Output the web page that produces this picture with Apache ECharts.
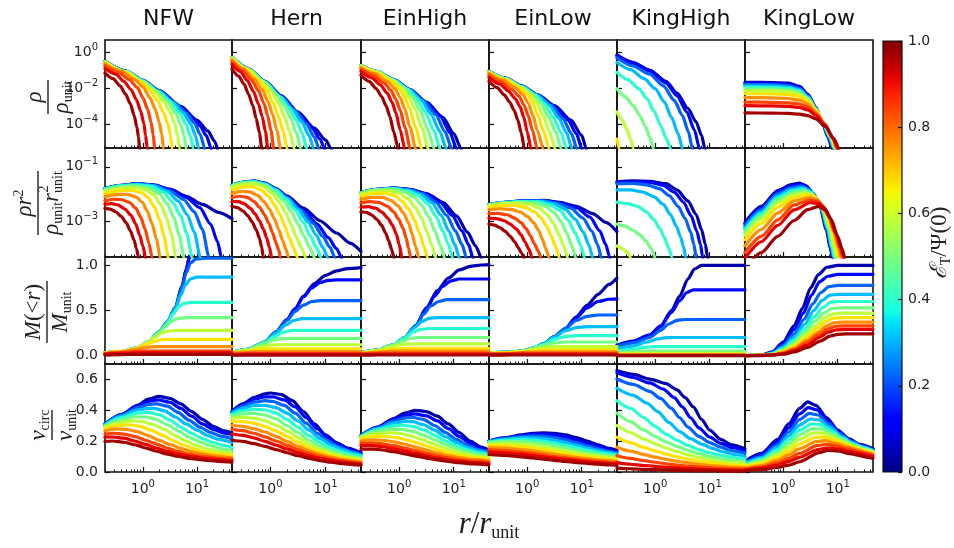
<!DOCTYPE html>
<html><head><meta charset="utf-8">
<script src="https://cdn.jsdelivr.net/npm/echarts@6/dist/echarts.min.js"></script>
<style>html,body{margin:0;padding:0;background:#fff}#c{width:954px;height:548px}</style>
</head><body><div id="c"></div>
<script>
// ---------------- DATA ----------------
const models = ['NFW', 'Hern', 'EinHigh', 'EinLow', 'KingHigh', 'KingLow'];
// truncation energy of each drawn curve (E_T / Psi(0))
const energies = [0.04, 0.13, 0.22, 0.31, 0.40, 0.49, 0.58, 0.67, 0.76, 0.84, 0.91, 0.97];
// x tick values (r / r_unit)
const xMajorTicks = [1, 10];
const xMinorTicks = [0.2, 0.3, 0.4, 0.5, 0.6, 0.7, 0.8, 0.9, 2, 3, 4, 5, 6, 7, 8, 9, 20, 30, 40];
// y tick values (exponents for log rows)
const rhoTickExp = [0, -2, -4];
const rr2TickExp = [-1, -3];
const massTicks = [0, 0.5, 1];
const vcircTicks = [0, 0.2, 0.4, 0.6];
const cbarTicks = [0, 0.2, 0.4, 0.6, 0.8, 1];

// Each curve: [log10(r/r_unit), value]; rows 1-2 values are log10 of the quantity.
// ---- rho / rho_unit ----
const rhoNFW = [
[[-0.7,-0.49],[-0.3,-1.04],[0,-1.54],[0.3,-2.11],[0.7,-2.99],[1.0,-3.75],[1.2,-4.35],[1.32,-4.9],[1.4,-5.6]],
[[-0.7,-0.49],[-0.3,-1.04],[0,-1.54],[0.3,-2.11],[0.7,-3.0],[0.9,-3.55],[1.05,-4.05],[1.17,-4.6],[1.26,-5.3],[1.3,-6]],
[[-0.7,-0.49],[-0.3,-1.05],[0,-1.55],[0.3,-2.13],[0.6,-2.8],[0.8,-3.35],[0.95,-3.9],[1.06,-4.55],[1.14,-5.3],[1.18,-6]],
[[-0.7,-0.5],[-0.3,-1.05],[0,-1.56],[0.3,-2.15],[0.55,-2.75],[0.75,-3.35],[0.88,-3.95],[0.97,-4.6],[1.03,-5.3],[1.06,-6]],
[[-0.7,-0.5],[-0.3,-1.06],[0,-1.58],[0.3,-2.2],[0.5,-2.72],[0.68,-3.35],[0.8,-4.0],[0.88,-4.65],[0.93,-5.3],[0.96,-6]],
[[-0.7,-0.51],[-0.3,-1.07],[0,-1.6],[0.25,-2.15],[0.45,-2.7],[0.6,-3.35],[0.7,-4.0],[0.76,-4.6],[0.8,-5.3],[0.83,-6]],
[[-0.7,-0.52],[-0.3,-1.09],[0,-1.64],[0.2,-2.1],[0.38,-2.7],[0.5,-3.3],[0.59,-3.95],[0.64,-4.6],[0.68,-5.3],[0.71,-6]],
[[-0.7,-0.55],[-0.3,-1.13],[-0.05,-1.62],[0.12,-2.05],[0.27,-2.65],[0.38,-3.3],[0.46,-3.95],[0.51,-4.6],[0.54,-5.3],[0.57,-6]],
[[-0.7,-0.62],[-0.4,-1.02],[-0.15,-1.5],[0.0,-1.9],[0.13,-2.5],[0.23,-3.15],[0.3,-3.85],[0.35,-4.55],[0.38,-5.3],[0.41,-6]],
[[-0.7,-0.72],[-0.45,-1.1],[-0.25,-1.5],[-0.1,-1.95],[0.0,-2.5],[0.09,-3.15],[0.15,-3.85],[0.19,-4.55],[0.22,-5.3],[0.25,-6]],
[[-0.7,-0.88],[-0.5,-1.2],[-0.35,-1.6],[-0.22,-2.05],[-0.12,-2.6],[-0.04,-3.25],[0.02,-3.95],[0.05,-4.6],[0.08,-5.3],[0.11,-6]],
[[-0.7,-1.15],[-0.55,-1.45],[-0.42,-1.85],[-0.32,-2.3],[-0.23,-2.85],[-0.16,-3.5],[-0.11,-4.15],[-0.08,-4.7],[-0.06,-5.3],[-0.03,-6]]
];
const rhoHern = [
[[-0.7,-0.26],[-0.4,-0.9],[-0.1,-1.6],[0.2,-2.4],[0.5,-3.3],[0.8,-4.2],[1.0,-4.85],[1.1,-5.3],[1.15,-6]],
[[-0.7,-0.26],[-0.4,-0.9],[-0.1,-1.6],[0.2,-2.42],[0.5,-3.35],[0.75,-4.15],[0.9,-4.8],[0.98,-5.3],[1.02,-6]],
[[-0.7,-0.26],[-0.4,-0.9],[-0.1,-1.61],[0.2,-2.45],[0.45,-3.25],[0.65,-3.95],[0.8,-4.7],[0.88,-5.3],[0.92,-6]],
[[-0.7,-0.27],[-0.4,-0.91],[-0.1,-1.62],[0.2,-2.5],[0.4,-3.15],[0.57,-3.85],[0.7,-4.6],[0.78,-5.3],[0.82,-6]],
[[-0.7,-0.27],[-0.4,-0.92],[-0.1,-1.64],[0.15,-2.4],[0.33,-3.05],[0.47,-3.75],[0.58,-4.5],[0.66,-5.3],[0.7,-6]],
[[-0.7,-0.28],[-0.4,-0.93],[-0.1,-1.67],[0.1,-2.3],[0.25,-2.95],[0.37,-3.65],[0.47,-4.45],[0.55,-5.3],[0.59,-6]],
[[-0.7,-0.29],[-0.4,-0.95],[-0.15,-1.6],[0.03,-2.2],[0.15,-2.85],[0.26,-3.6],[0.35,-4.4],[0.43,-5.3],[0.47,-6]],
[[-0.7,-0.33],[-0.45,-0.9],[-0.22,-1.5],[-0.07,-2.1],[0.05,-2.8],[0.14,-3.5],[0.23,-4.35],[0.3,-5.3],[0.34,-6]],
[[-0.7,-0.4],[-0.5,-0.88],[-0.3,-1.45],[-0.15,-2.05],[-0.04,-2.75],[0.04,-3.45],[0.12,-4.35],[0.18,-5.3],[0.22,-6]],
[[-0.7,-0.5],[-0.5,-1.0],[-0.35,-1.5],[-0.22,-2.1],[-0.12,-2.8],[-0.05,-3.5],[0.01,-4.35],[0.06,-5.3],[0.1,-6]],
[[-0.7,-0.65],[-0.55,-1.05],[-0.42,-1.55],[-0.31,-2.15],[-0.22,-2.85],[-0.15,-3.55],[-0.09,-4.4],[-0.05,-5.3],[-0.01,-6]],
[[-0.7,-0.9],[-0.58,-1.3],[-0.48,-1.75],[-0.4,-2.3],[-0.32,-2.95],[-0.26,-3.65],[-0.2,-4.45],[-0.16,-5.3],[-0.12,-6]]
];
const rhoEinHigh = [
[[-0.7,-0.71],[-0.4,-1.05],[-0.1,-1.5],[0.2,-2.05],[0.5,-2.75],[0.8,-3.6],[1.0,-4.5],[1.13,-5.3],[1.18,-6]],
[[-0.7,-0.71],[-0.4,-1.05],[-0.1,-1.5],[0.2,-2.06],[0.5,-2.78],[0.75,-3.5],[0.93,-4.45],[1.05,-5.3],[1.09,-6]],
[[-0.7,-0.71],[-0.4,-1.05],[-0.1,-1.51],[0.2,-2.07],[0.45,-2.7],[0.67,-3.45],[0.84,-4.4],[0.96,-5.3],[1.0,-6]],
[[-0.7,-0.72],[-0.4,-1.06],[-0.1,-1.52],[0.2,-2.1],[0.4,-2.62],[0.58,-3.4],[0.74,-4.35],[0.86,-5.3],[0.9,-6]],
[[-0.7,-0.72],[-0.4,-1.06],[-0.1,-1.53],[0.15,-2.03],[0.32,-2.55],[0.48,-3.3],[0.63,-4.3],[0.75,-5.3],[0.79,-6]],
[[-0.7,-0.73],[-0.4,-1.07],[-0.1,-1.55],[0.1,-1.98],[0.25,-2.5],[0.38,-3.2],[0.52,-4.25],[0.64,-5.3],[0.68,-6]],
[[-0.7,-0.74],[-0.4,-1.08],[-0.12,-1.55],[0.05,-1.95],[0.17,-2.45],[0.29,-3.15],[0.42,-4.2],[0.53,-5.3],[0.57,-6]],
[[-0.7,-0.77],[-0.4,-1.12],[-0.15,-1.58],[0.0,-1.98],[0.1,-2.45],[0.19,-3.1],[0.3,-4.15],[0.41,-5.3],[0.45,-6]],
[[-0.7,-0.83],[-0.45,-1.15],[-0.22,-1.6],[-0.08,-2.0],[0.02,-2.5],[0.1,-3.1],[0.2,-4.15],[0.3,-5.3],[0.34,-6]],
[[-0.7,-0.92],[-0.48,-1.25],[-0.28,-1.68],[-0.15,-2.1],[-0.06,-2.6],[0.02,-3.2],[0.11,-4.2],[0.2,-5.3],[0.24,-6]],
[[-0.7,-1.05],[-0.5,-1.4],[-0.34,-1.8],[-0.22,-2.25],[-0.13,-2.75],[-0.06,-3.35],[0.02,-4.3],[0.1,-5.3],[0.14,-6]],
[[-0.7,-1.25],[-0.55,-1.6],[-0.42,-2.0],[-0.32,-2.45],[-0.24,-2.95],[-0.17,-3.55],[-0.1,-4.4],[-0.02,-5.3],[0.02,-6]]
];
const rhoEinLow = [
[[-0.7,-1.04],[-0.4,-1.42],[-0.1,-1.85],[0.2,-2.35],[0.5,-2.95],[0.8,-3.75],[1.0,-4.6],[1.08,-5.3],[1.12,-6]],
[[-0.7,-1.04],[-0.4,-1.42],[-0.1,-1.86],[0.2,-2.37],[0.5,-3.0],[0.75,-3.75],[0.9,-4.5],[1.0,-5.3],[1.04,-6]],
[[-0.7,-1.05],[-0.4,-1.43],[-0.1,-1.87],[0.2,-2.38],[0.45,-2.95],[0.66,-3.7],[0.81,-4.5],[0.91,-5.3],[0.95,-6]],
[[-0.7,-1.05],[-0.4,-1.43],[-0.1,-1.88],[0.2,-2.4],[0.4,-2.9],[0.58,-3.65],[0.72,-4.45],[0.82,-5.3],[0.86,-6]],
[[-0.7,-1.06],[-0.4,-1.44],[-0.1,-1.9],[0.15,-2.35],[0.32,-2.85],[0.48,-3.6],[0.62,-4.45],[0.72,-5.3],[0.76,-6]],
[[-0.7,-1.07],[-0.4,-1.45],[-0.1,-1.92],[0.1,-2.3],[0.25,-2.8],[0.39,-3.55],[0.52,-4.4],[0.62,-5.3],[0.66,-6]],
[[-0.7,-1.08],[-0.4,-1.47],[-0.12,-1.92],[0.05,-2.3],[0.17,-2.75],[0.29,-3.5],[0.41,-4.4],[0.51,-5.3],[0.55,-6]],
[[-0.7,-1.1],[-0.4,-1.5],[-0.15,-1.95],[0.0,-2.3],[0.1,-2.75],[0.19,-3.45],[0.3,-4.35],[0.4,-5.3],[0.44,-6]],
[[-0.7,-1.15],[-0.45,-1.52],[-0.22,-1.95],[-0.08,-2.32],[0.02,-2.8],[0.1,-3.45],[0.19,-4.35],[0.29,-5.3],[0.33,-6]],
[[-0.7,-1.25],[-0.48,-1.62],[-0.28,-2.05],[-0.15,-2.42],[-0.06,-2.9],[0.02,-3.5],[0.1,-4.35],[0.18,-5.3],[0.22,-6]],
[[-0.7,-1.38],[-0.5,-1.75],[-0.34,-2.15],[-0.22,-2.55],[-0.13,-3.0],[-0.06,-3.6],[0.0,-4.4],[0.07,-5.3],[0.11,-6]],
[[-0.7,-1.6],[-0.55,-1.95],[-0.42,-2.35],[-0.32,-2.75],[-0.24,-3.2],[-0.17,-3.75],[-0.11,-4.45],[-0.05,-5.3],[-0.01,-6]]
];
const rhoKingHigh = [
[[-0.7,-0.13],[-0.4,-0.55],[-0.1,-0.97],[0.2,-1.6],[0.4,-2.25],[0.6,-3.1],[0.75,-3.85],[0.85,-4.6],[0.91,-5.3],[0.95,-6]],
[[-0.7,-0.18],[-0.4,-0.6],[-0.1,-1.03],[0.2,-1.7],[0.4,-2.4],[0.58,-3.3],[0.72,-4.3],[0.81,-5.3],[0.85,-6]],
[[-0.7,-0.3],[-0.4,-0.75],[-0.1,-1.2],[0.15,-1.85],[0.35,-2.65],[0.5,-3.5],[0.61,-4.4],[0.68,-5.3],[0.72,-6]],
[[-0.7,-0.55],[-0.45,-0.95],[-0.2,-1.45],[0.0,-2.0],[0.17,-2.75],[0.3,-3.6],[0.42,-4.5],[0.5,-5.3],[0.54,-6]],
[[-0.7,-1.1],[-0.5,-1.5],[-0.3,-2.0],[-0.15,-2.55],[-0.02,-3.25],[0.1,-4.05],[0.2,-4.75],[0.28,-5.3],[0.32,-6]],
[[-0.7,-2.0],[-0.55,-2.45],[-0.4,-2.95],[-0.28,-3.5],[-0.18,-4.1],[-0.1,-4.7],[-0.03,-5.3],[0.01,-6]],
[[-0.7,-3.3],[-0.6,-3.75],[-0.52,-4.25],[-0.45,-4.8],[-0.4,-5.3],[-0.37,-6]],
[[-0.7,-4.8],[-0.66,-5.3],[-0.63,-6]],
[], [], [], []
];
const rhoKingLow = [
[[-0.7,-1.65],[-0.2,-1.66],[0.1,-1.7],[0.3,-1.88],[0.45,-2.3],[0.6,-3.05],[0.72,-3.9],[0.82,-4.7],[0.9,-5.3],[0.94,-6]],
[[-0.7,-1.7],[-0.2,-1.71],[0.1,-1.76],[0.3,-1.94],[0.45,-2.35],[0.6,-3.05],[0.72,-3.9],[0.83,-4.7],[0.91,-5.3],[0.95,-6]],
[[-0.7,-1.77],[-0.2,-1.78],[0.1,-1.83],[0.3,-2.0],[0.45,-2.4],[0.6,-3.08],[0.72,-3.9],[0.84,-4.7],[0.92,-5.3],[0.96,-6]],
[[-0.7,-1.85],[-0.2,-1.86],[0.1,-1.91],[0.3,-2.07],[0.45,-2.45],[0.6,-3.1],[0.73,-3.9],[0.85,-4.7],[0.93,-5.3],[0.97,-6]],
[[-0.7,-1.93],[-0.2,-1.94],[0.1,-1.99],[0.3,-2.14],[0.45,-2.5],[0.6,-3.12],[0.73,-3.9],[0.86,-4.7],[0.94,-5.3],[0.98,-6]],
[[-0.7,-2.02],[-0.2,-2.03],[0.1,-2.08],[0.3,-2.22],[0.45,-2.55],[0.6,-3.15],[0.74,-3.9],[0.87,-4.7],[0.95,-5.3],[0.99,-6]],
[[-0.7,-2.12],[-0.2,-2.13],[0.1,-2.18],[0.3,-2.3],[0.45,-2.6],[0.6,-3.18],[0.74,-3.9],[0.88,-4.7],[0.96,-5.3],[1.0,-6]],
[[-0.7,-2.28],[-0.2,-2.29],[0.1,-2.33],[0.3,-2.44],[0.45,-2.7],[0.6,-3.22],[0.75,-3.9],[0.89,-4.7],[0.97,-5.3],[1.01,-6]],
[[-0.7,-2.5],[-0.2,-2.51],[0.1,-2.55],[0.3,-2.64],[0.45,-2.85],[0.6,-3.3],[0.75,-3.92],[0.9,-4.7],[0.98,-5.3],[1.02,-6]],
[[-0.7,-2.75],[-0.2,-2.76],[0.1,-2.79],[0.3,-2.86],[0.45,-3.02],[0.6,-3.4],[0.76,-3.97],[0.91,-4.72],[0.99,-5.3],[1.03,-6]],
[[-0.7,-2.95],[-0.2,-2.96],[0.1,-2.99],[0.3,-3.05],[0.45,-3.18],[0.6,-3.48],[0.76,-4.02],[0.92,-4.75],[1.0,-5.3],[1.04,-6]],
[[-0.7,-3.35],[-0.2,-3.36],[0.1,-3.38],[0.3,-3.42],[0.45,-3.5],[0.6,-3.68],[0.77,-4.1],[0.93,-4.8],[1.02,-5.3],[1.06,-6]]
];
// ---- rho r^2 / (rho_unit r_unit^2) ----
const rr2NFW = [
[[-0.7,-1.8],[-0.4,-1.68],[-0.1,-1.62],[0.2,-1.66],[0.5,-1.82],[0.8,-2.08],[1.1,-2.38],[1.4,-2.67],[1.645,-2.9]],
[[-0.7,-1.8],[-0.4,-1.68],[-0.1,-1.62],[0.2,-1.67],[0.5,-1.84],[0.8,-2.12],[1.05,-2.5],[1.25,-3.1],[1.38,-3.75],[1.45,-4.31],[1.5,-5]],
[[-0.7,-1.8],[-0.4,-1.69],[-0.1,-1.63],[0.2,-1.68],[0.5,-1.88],[0.75,-2.2],[0.95,-2.65],[1.1,-3.3],[1.22,-4.31],[1.27,-5]],
[[-0.7,-1.81],[-0.4,-1.69],[-0.1,-1.64],[0.2,-1.7],[0.45,-1.9],[0.65,-2.25],[0.82,-2.75],[0.95,-3.4],[1.06,-4.31],[1.11,-5]],
[[-0.7,-1.82],[-0.4,-1.7],[-0.1,-1.66],[0.15,-1.72],[0.38,-1.93],[0.55,-2.3],[0.7,-2.8],[0.81,-3.45],[0.91,-4.31],[0.96,-5]],
[[-0.7,-1.84],[-0.4,-1.73],[-0.15,-1.7],[0.1,-1.77],[0.3,-1.98],[0.45,-2.35],[0.57,-2.85],[0.67,-3.5],[0.76,-4.31],[0.81,-5]],
[[-0.7,-1.9],[-0.4,-1.78],[-0.15,-1.76],[0.05,-1.84],[0.2,-2.02],[0.33,-2.38],[0.44,-2.88],[0.53,-3.5],[0.61,-4.31],[0.66,-5]],
[[-0.7,-1.98],[-0.45,-1.88],[-0.2,-1.86],[-0.02,-1.95],[0.1,-2.13],[0.21,-2.47],[0.31,-2.95],[0.39,-3.55],[0.47,-4.31],[0.52,-5]],
[[-0.7,-2.1],[-0.5,-2.02],[-0.3,-2.01],[-0.13,-2.1],[-0.01,-2.3],[0.08,-2.62],[0.17,-3.08],[0.25,-3.65],[0.32,-4.31],[0.37,-5]],
[[-0.7,-2.25],[-0.55,-2.19],[-0.4,-2.2],[-0.25,-2.3],[-0.13,-2.52],[-0.04,-2.85],[0.04,-3.28],[0.11,-3.8],[0.17,-4.31],[0.22,-5]],
[[-0.7,-2.37],[-0.58,-2.35],[-0.46,-2.4],[-0.33,-2.55],[-0.22,-2.78],[-0.13,-3.1],[-0.06,-3.5],[0.0,-3.9],[0.05,-4.31],[0.1,-5]],
[[-0.7,-2.52],[-0.6,-2.55],[-0.5,-2.65],[-0.4,-2.82],[-0.31,-3.05],[-0.23,-3.35],[-0.16,-3.7],[-0.12,-4.0],[-0.08,-4.31],[-0.04,-5]]
];
const rr2Hern = [
[[-0.7,-1.68],[-0.5,-1.57],[-0.3,-1.52],[-0.1,-1.6],[0.1,-1.8],[0.3,-2.07],[0.6,-2.52],[0.9,-2.98],[1.2,-3.43],[1.45,-3.8],[1.645,-4.1]],
[[-0.7,-1.68],[-0.5,-1.57],[-0.3,-1.53],[-0.1,-1.61],[0.1,-1.81],[0.3,-2.1],[0.6,-2.6],[0.85,-3.1],[1.05,-3.6],[1.2,-4.0],[1.29,-4.31],[1.34,-5]],
[[-0.7,-1.68],[-0.5,-1.57],[-0.3,-1.53],[-0.1,-1.62],[0.1,-1.82],[0.3,-2.12],[0.55,-2.58],[0.78,-3.08],[0.95,-3.55],[1.08,-3.95],[1.17,-4.31],[1.22,-5]],
[[-0.7,-1.69],[-0.5,-1.58],[-0.3,-1.54],[-0.1,-1.63],[0.1,-1.84],[0.3,-2.15],[0.5,-2.55],[0.68,-3.02],[0.83,-3.5],[0.95,-3.95],[1.04,-4.31],[1.09,-5]],
[[-0.7,-1.69],[-0.5,-1.58],[-0.3,-1.55],[-0.1,-1.65],[0.1,-1.87],[0.28,-2.18],[0.45,-2.58],[0.6,-3.05],[0.72,-3.52],[0.83,-3.95],[0.92,-4.31],[0.97,-5]],
[[-0.7,-1.7],[-0.5,-1.6],[-0.3,-1.57],[-0.1,-1.68],[0.08,-1.92],[0.24,-2.25],[0.38,-2.65],[0.5,-3.1],[0.61,-3.55],[0.71,-3.95],[0.8,-4.31],[0.85,-5]],
[[-0.7,-1.75],[-0.5,-1.64],[-0.3,-1.62],[-0.12,-1.74],[0.03,-1.97],[0.16,-2.3],[0.28,-2.7],[0.38,-3.13],[0.47,-3.57],[0.56,-3.97],[0.64,-4.31],[0.69,-5]],
[[-0.7,-1.85],[-0.5,-1.74],[-0.33,-1.73],[-0.17,-1.85],[-0.04,-2.07],[0.07,-2.38],[0.17,-2.75],[0.26,-3.17],[0.34,-3.6],[0.42,-3.98],[0.49,-4.31],[0.54,-5]],
[[-0.7,-1.98],[-0.52,-1.9],[-0.37,-1.92],[-0.23,-2.05],[-0.12,-2.27],[-0.02,-2.55],[0.07,-2.9],[0.15,-3.3],[0.22,-3.7],[0.28,-4.02],[0.33,-4.31],[0.38,-5]],
[[-0.7,-2.12],[-0.55,-2.08],[-0.42,-2.12],[-0.3,-2.27],[-0.2,-2.48],[-0.11,-2.75],[-0.03,-3.07],[0.04,-3.43],[0.1,-3.78],[0.15,-4.05],[0.18,-4.31],[0.23,-5]],
[[-0.7,-2.28],[-0.58,-2.28],[-0.47,-2.36],[-0.37,-2.52],[-0.28,-2.73],[-0.2,-2.98],[-0.13,-3.28],[-0.07,-3.6],[-0.02,-3.95],[0.02,-4.31],[0.07,-5]],
[[-0.7,-2.45],[-0.6,-2.5],[-0.5,-2.62],[-0.41,-2.8],[-0.33,-3.03],[-0.26,-3.3],[-0.2,-3.62],[-0.16,-3.95],[-0.13,-4.31],[-0.09,-5]]
];
const rr2EinHigh = [
[[-0.7,-1.95],[-0.4,-1.83],[-0.1,-1.77],[0.2,-1.83],[0.5,-1.98],[0.8,-2.3],[1.05,-2.8],[1.25,-3.4],[1.4,-3.9],[1.5,-4.31],[1.55,-5]],
[[-0.7,-1.95],[-0.4,-1.83],[-0.1,-1.78],[0.2,-1.84],[0.5,-2.0],[0.75,-2.3],[0.97,-2.78],[1.15,-3.35],[1.27,-3.85],[1.35,-4.31],[1.4,-5]],
[[-0.7,-1.95],[-0.4,-1.83],[-0.1,-1.78],[0.2,-1.85],[0.45,-2.0],[0.67,-2.3],[0.87,-2.78],[1.03,-3.35],[1.15,-3.85],[1.23,-4.31],[1.28,-5]],
[[-0.7,-1.96],[-0.4,-1.84],[-0.1,-1.79],[0.2,-1.87],[0.4,-2.02],[0.6,-2.32],[0.77,-2.78],[0.91,-3.35],[1.02,-3.85],[1.1,-4.31],[1.15,-5]],
[[-0.7,-1.96],[-0.4,-1.84],[-0.1,-1.8],[0.15,-1.88],[0.35,-2.05],[0.52,-2.35],[0.67,-2.8],[0.8,-3.35],[0.9,-3.85],[0.98,-4.31],[1.03,-5]],
[[-0.7,-1.97],[-0.4,-1.85],[-0.12,-1.82],[0.1,-1.92],[0.27,-2.1],[0.41,-2.4],[0.54,-2.83],[0.66,-3.37],[0.75,-3.86],[0.83,-4.31],[0.88,-5]],
[[-0.7,-2.0],[-0.45,-1.89],[-0.2,-1.87],[0.0,-1.97],[0.16,-2.17],[0.29,-2.47],[0.41,-2.88],[0.51,-3.38],[0.6,-3.87],[0.67,-4.31],[0.72,-5]],
[[-0.7,-2.08],[-0.47,-1.98],[-0.25,-1.97],[-0.08,-2.07],[0.06,-2.27],[0.18,-2.56],[0.28,-2.95],[0.37,-3.42],[0.45,-3.9],[0.52,-4.31],[0.57,-5]],
[[-0.7,-2.2],[-0.5,-2.12],[-0.3,-2.12],[-0.15,-2.23],[-0.02,-2.43],[0.08,-2.7],[0.17,-3.05],[0.24,-3.48],[0.3,-3.92],[0.36,-4.31],[0.41,-5]],
[[-0.7,-2.33],[-0.53,-2.28],[-0.36,-2.31],[-0.22,-2.44],[-0.1,-2.65],[-0.01,-2.92],[0.07,-3.25],[0.13,-3.62],[0.17,-3.98],[0.21,-4.31],[0.26,-5]],
[[-0.7,-2.48],[-0.56,-2.46],[-0.43,-2.52],[-0.31,-2.67],[-0.21,-2.88],[-0.12,-3.15],[-0.05,-3.48],[0.0,-3.85],[0.05,-4.31],[0.1,-5]],
[[-0.7,-2.65],[-0.6,-2.67],[-0.5,-2.77],[-0.41,-2.93],[-0.32,-3.15],[-0.25,-3.42],[-0.19,-3.72],[-0.14,-4.02],[-0.1,-4.31],[-0.06,-5]]
];
const rr2EinLow = [
[[-0.7,-2.38],[-0.4,-2.3],[-0.1,-2.25],[0.3,-2.23],[0.6,-2.3],[0.9,-2.45],[1.2,-2.72],[1.45,-3.05],[1.645,-3.38]],
[[-0.7,-2.38],[-0.4,-2.3],[-0.1,-2.25],[0.3,-2.24],[0.6,-2.32],[0.9,-2.5],[1.15,-2.85],[1.33,-3.35],[1.44,-3.85],[1.51,-4.31],[1.56,-5]],
[[-0.7,-2.38],[-0.4,-2.3],[-0.1,-2.26],[0.3,-2.25],[0.55,-2.33],[0.8,-2.52],[1.02,-2.88],[1.19,-3.37],[1.29,-3.86],[1.36,-4.31],[1.41,-5]],
[[-0.7,-2.39],[-0.4,-2.31],[-0.1,-2.27],[0.25,-2.27],[0.5,-2.36],[0.7,-2.56],[0.88,-2.92],[1.03,-3.4],[1.13,-3.87],[1.2,-4.31],[1.25,-5]],
[[-0.7,-2.39],[-0.4,-2.31],[-0.1,-2.28],[0.2,-2.29],[0.42,-2.4],[0.6,-2.6],[0.75,-2.95],[0.88,-3.42],[0.98,-3.88],[1.05,-4.31],[1.1,-5]],
[[-0.7,-2.4],[-0.4,-2.32],[-0.1,-2.3],[0.15,-2.33],[0.34,-2.45],[0.49,-2.67],[0.62,-3.0],[0.73,-3.45],[0.82,-3.9],[0.89,-4.31],[0.94,-5]],
[[-0.7,-2.42],[-0.45,-2.35],[-0.2,-2.33],[0.05,-2.38],[0.22,-2.52],[0.36,-2.74],[0.48,-3.06],[0.58,-3.48],[0.67,-3.9],[0.74,-4.31],[0.79,-5]],
[[-0.7,-2.48],[-0.45,-2.42],[-0.22,-2.42],[-0.02,-2.5],[0.13,-2.65],[0.25,-2.86],[0.35,-3.15],[0.44,-3.53],[0.52,-3.93],[0.59,-4.31],[0.64,-5]],
[[-0.7,-2.58],[-0.5,-2.54],[-0.3,-2.56],[-0.12,-2.66],[0.01,-2.83],[0.12,-3.05],[0.21,-3.33],[0.28,-3.66],[0.34,-4.0],[0.4,-4.31],[0.45,-5]],
[[-0.7,-2.72],[-0.53,-2.71],[-0.37,-2.76],[-0.23,-2.88],[-0.11,-3.05],[-0.02,-3.27],[0.06,-3.53],[0.13,-3.82],[0.2,-4.08],[0.25,-4.31],[0.3,-5]],
[[-0.7,-2.88],[-0.56,-2.9],[-0.43,-2.97],[-0.31,-3.1],[-0.2,-3.28],[-0.11,-3.5],[-0.04,-3.75],[0.03,-4.02],[0.09,-4.31],[0.14,-5]],
[[-0.7,-3.1],[-0.6,-3.14],[-0.5,-3.23],[-0.4,-3.37],[-0.31,-3.55],[-0.23,-3.75],[-0.16,-3.97],[-0.11,-4.15],[-0.06,-4.31],[-0.02,-5]]
];
const rr2KingHigh = [
[[-0.7,-1.55],[-0.4,-1.52],[-0.1,-1.53],[0.2,-1.62],[0.4,-1.85],[0.6,-2.25],[0.75,-2.75],[0.85,-3.3],[0.92,-3.85],[0.96,-4.31],[1.0,-5]],
[[-0.7,-1.57],[-0.4,-1.55],[-0.1,-1.57],[0.15,-1.68],[0.35,-1.93],[0.52,-2.3],[0.66,-2.8],[0.76,-3.35],[0.83,-3.85],[0.87,-4.31],[0.91,-5]],
[[-0.7,-1.62],[-0.4,-1.61],[-0.15,-1.66],[0.08,-1.8],[0.26,-2.06],[0.42,-2.45],[0.55,-2.9],[0.65,-3.4],[0.71,-3.85],[0.75,-4.31],[0.79,-5]],
[[-0.7,-1.85],[-0.45,-1.85],[-0.22,-1.93],[-0.02,-2.1],[0.15,-2.38],[0.28,-2.75],[0.39,-3.18],[0.47,-3.6],[0.52,-3.95],[0.56,-4.31],[0.6,-5]],
[[-0.7,-2.3],[-0.5,-2.35],[-0.32,-2.45],[-0.16,-2.65],[-0.03,-2.92],[0.08,-3.25],[0.17,-3.6],[0.24,-3.95],[0.31,-4.31],[0.35,-5]],
[[-0.7,-3.1],[-0.55,-3.18],[-0.41,-3.32],[-0.28,-3.5],[-0.17,-3.72],[-0.08,-3.98],[0.0,-4.31],[0.04,-5]],
[[-0.7,-3.9],[-0.6,-4.0],[-0.5,-4.15],[-0.45,-4.31],[-0.41,-5]],
[], [], [], [], []
];
const rr2KingLow = [
[[-0.7,-3.05],[-0.4,-2.45],[-0.1,-1.87],[0.15,-1.65],[0.3,-1.6],[0.42,-1.7],[0.55,-1.98],[0.68,-2.5],[0.79,-3.3],[0.86,-3.95],[0.9,-4.31],[0.94,-5]],
[[-0.7,-3.1],[-0.4,-2.5],[-0.1,-1.92],[0.15,-1.7],[0.32,-1.65],[0.45,-1.76],[0.57,-2.04],[0.69,-2.52],[0.8,-3.3],[0.87,-3.95],[0.91,-4.31],[0.95,-5]],
[[-0.7,-3.17],[-0.4,-2.57],[-0.1,-1.98],[0.15,-1.76],[0.33,-1.7],[0.47,-1.82],[0.59,-2.1],[0.7,-2.55],[0.81,-3.3],[0.88,-3.95],[0.92,-4.31],[0.96,-5]],
[[-0.7,-3.25],[-0.4,-2.65],[-0.1,-2.06],[0.15,-1.83],[0.35,-1.76],[0.49,-1.88],[0.61,-2.16],[0.71,-2.58],[0.82,-3.3],[0.89,-3.95],[0.93,-4.31],[0.97,-5]],
[[-0.7,-3.33],[-0.4,-2.73],[-0.1,-2.14],[0.17,-1.88],[0.37,-1.82],[0.51,-1.94],[0.62,-2.2],[0.72,-2.6],[0.83,-3.3],[0.9,-3.95],[0.94,-4.31],[0.98,-5]],
[[-0.7,-3.42],[-0.4,-2.82],[-0.1,-2.22],[0.2,-1.94],[0.4,-1.88],[0.53,-2.0],[0.64,-2.25],[0.74,-2.63],[0.85,-3.3],[0.92,-3.95],[0.96,-4.31],[1.0,-5]],
[[-0.7,-3.52],[-0.4,-2.92],[-0.1,-2.32],[0.2,-2.03],[0.42,-1.95],[0.56,-2.07],[0.67,-2.32],[0.76,-2.67],[0.87,-3.3],[0.94,-3.95],[0.98,-4.31],[1.02,-5]],
[[-0.7,-3.68],[-0.4,-3.08],[-0.1,-2.48],[0.2,-2.13],[0.45,-2.03],[0.59,-2.13],[0.69,-2.37],[0.79,-2.72],[0.9,-3.35],[0.98,-3.95],[1.02,-4.31],[1.06,-5]],
[[-0.7,-3.9],[-0.4,-3.3],[-0.1,-2.7],[0.2,-2.25],[0.48,-2.13],[0.62,-2.2],[0.72,-2.42],[0.82,-2.78],[0.93,-3.4],[1.01,-3.97],[1.06,-4.31],[1.1,-5]],
[[-0.7,-4.15],[-0.4,-3.55],[-0.1,-2.95],[0.2,-2.4],[0.5,-2.22],[0.64,-2.27],[0.74,-2.47],[0.84,-2.83],[0.96,-3.45],[1.04,-3.98],[1.09,-4.31],[1.13,-5]],
[[-0.7,-4.35],[-0.4,-3.75],[-0.1,-3.15],[0.2,-2.58],[0.5,-2.32],[0.66,-2.35],[0.76,-2.52],[0.86,-2.88],[0.98,-3.5],[1.06,-4.0],[1.11,-4.31],[1.15,-5]],
[[-0.7,-4.75],[-0.4,-4.15],[-0.1,-3.55],[0.2,-2.97],[0.45,-2.57],[0.65,-2.45],[0.78,-2.6],[0.88,-2.93],[1.0,-3.55],[1.08,-4.02],[1.13,-4.31],[1.17,-5]]
];
// ---- M(<r) / M_unit ----
const massNFW = [
[[-0.7,0.03],[-0.4,0.045],[-0.1,0.085],[0.1,0.15],[0.3,0.26],[0.45,0.37],[0.6,0.53],[0.72,0.76],[0.8,0.96],[0.86,1.1],[0.92,1.25]],
[[-0.7,0.03],[-0.4,0.045],[-0.1,0.085],[0.1,0.15],[0.3,0.26],[0.45,0.37],[0.6,0.53],[0.72,0.76],[0.8,0.95],[0.86,1.08],[0.92,1.2]],
[[-0.7,0.03],[-0.4,0.045],[-0.1,0.085],[0.1,0.15],[0.3,0.26],[0.45,0.37],[0.6,0.53],[0.72,0.75],[0.8,0.92],[0.88,1.03],[0.98,1.07],[1.15,1.08],[1.645,1.08]],
[[-0.7,0.03],[-0.4,0.045],[-0.1,0.085],[0.1,0.15],[0.3,0.26],[0.45,0.37],[0.6,0.52],[0.7,0.67],[0.78,0.78],[0.88,0.85],[1.0,0.87],[1.645,0.87]],
[[-0.7,0.03],[-0.4,0.045],[-0.1,0.085],[0.1,0.15],[0.3,0.26],[0.45,0.36],[0.56,0.46],[0.66,0.54],[0.76,0.58],[0.9,0.59],[1.645,0.59]],
[[-0.7,0.03],[-0.4,0.045],[-0.1,0.085],[0.1,0.15],[0.28,0.24],[0.42,0.32],[0.53,0.38],[0.64,0.41],[0.78,0.42],[1.645,0.42]],
[[-0.7,0.03],[-0.4,0.045],[-0.1,0.083],[0.08,0.14],[0.22,0.2],[0.35,0.25],[0.47,0.27],[0.62,0.28],[1.645,0.28]],
[[-0.7,0.028],[-0.4,0.043],[-0.12,0.078],[0.05,0.12],[0.2,0.155],[0.33,0.175],[0.5,0.18],[1.645,0.18]],
[[-0.7,0.025],[-0.4,0.04],[-0.15,0.065],[0.0,0.085],[0.15,0.097],[0.35,0.1],[1.645,0.1]],
[[-0.7,0.02],[-0.4,0.032],[-0.2,0.043],[0.0,0.049],[0.2,0.05],[1.645,0.05]],
[[-0.7,0.015],[-0.4,0.023],[-0.2,0.028],[0.0,0.03],[1.645,0.03]],
[[-0.7,0.008],[-0.4,0.011],[-0.2,0.012],[1.645,0.012]]
];
const massHern = [
[[-0.7,0.035],[-0.4,0.07],[-0.1,0.15],[0.1,0.26],[0.3,0.4],[0.45,0.52],[0.6,0.66],[0.8,0.8],[1.0,0.89],[1.2,0.94],[1.4,0.965],[1.645,0.975]],
[[-0.7,0.035],[-0.4,0.07],[-0.1,0.15],[0.1,0.26],[0.3,0.4],[0.45,0.52],[0.6,0.65],[0.75,0.75],[0.9,0.81],[1.05,0.835],[1.2,0.84],[1.645,0.84]],
[[-0.7,0.035],[-0.4,0.07],[-0.1,0.15],[0.1,0.26],[0.3,0.39],[0.45,0.49],[0.6,0.56],[0.75,0.6],[0.9,0.61],[1.645,0.61]],
[[-0.7,0.035],[-0.4,0.07],[-0.1,0.15],[0.1,0.25],[0.28,0.34],[0.42,0.39],[0.58,0.41],[1.645,0.41]],
[[-0.7,0.034],[-0.4,0.068],[-0.1,0.145],[0.08,0.21],[0.23,0.26],[0.4,0.28],[1.645,0.28]],
[[-0.7,0.033],[-0.4,0.065],[-0.12,0.13],[0.05,0.17],[0.2,0.188],[0.35,0.19],[1.645,0.19]],
[[-0.7,0.03],[-0.4,0.06],[-0.15,0.1],[0.0,0.115],[0.15,0.12],[1.645,0.12]],
[[-0.7,0.027],[-0.4,0.05],[-0.2,0.068],[-0.05,0.074],[0.1,0.075],[1.645,0.075]],
[[-0.7,0.022],[-0.45,0.037],[-0.25,0.044],[-0.1,0.045],[1.645,0.045]],
[[-0.7,0.015],[-0.45,0.022],[-0.25,0.025],[1.645,0.025]],
[[-0.7,0.009],[-0.4,0.012],[1.645,0.012]],
[[-0.7,0.004],[-0.4,0.005],[1.645,0.005]]
];
const massEinHigh = [
[[-0.7,0.03],[-0.4,0.06],[-0.1,0.12],[0.1,0.2],[0.3,0.33],[0.5,0.53],[0.7,0.72],[0.9,0.86],[1.1,0.95],[1.3,0.99],[1.5,1.005],[1.645,1.01]],
[[-0.7,0.03],[-0.4,0.06],[-0.1,0.12],[0.1,0.2],[0.3,0.33],[0.5,0.52],[0.65,0.66],[0.8,0.77],[0.95,0.83],[1.1,0.85],[1.645,0.85]],
[[-0.7,0.03],[-0.4,0.06],[-0.1,0.12],[0.1,0.2],[0.3,0.33],[0.45,0.46],[0.58,0.55],[0.72,0.6],[0.87,0.62],[1.645,0.62]],
[[-0.7,0.03],[-0.4,0.06],[-0.1,0.12],[0.1,0.2],[0.28,0.31],[0.42,0.38],[0.56,0.415],[0.72,0.42],[1.645,0.42]],
[[-0.7,0.03],[-0.4,0.06],[-0.1,0.12],[0.1,0.195],[0.25,0.26],[0.39,0.29],[0.55,0.3],[1.645,0.3]],
[[-0.7,0.029],[-0.4,0.058],[-0.1,0.115],[0.06,0.16],[0.2,0.19],[0.35,0.2],[1.645,0.2]],
[[-0.7,0.027],[-0.4,0.055],[-0.12,0.1],[0.02,0.12],[0.15,0.128],[0.3,0.13],[1.645,0.13]],
[[-0.7,0.024],[-0.4,0.048],[-0.15,0.07],[0.0,0.078],[0.15,0.08],[1.645,0.08]],
[[-0.7,0.02],[-0.4,0.037],[-0.2,0.046],[-0.05,0.048],[1.645,0.048]],
[[-0.7,0.015],[-0.4,0.025],[-0.2,0.028],[1.645,0.028]],
[[-0.7,0.009],[-0.4,0.013],[-0.2,0.014],[1.645,0.014]],
[[-0.7,0.004],[-0.4,0.006],[1.645,0.006]]
];
const massEinLow = [
[[-0.7,0.03],[-0.4,0.035],[-0.1,0.05],[0.1,0.08],[0.3,0.13],[0.5,0.21],[0.7,0.3],[0.9,0.43],[1.1,0.56],[1.3,0.68],[1.5,0.79],[1.645,0.86]],
[[-0.7,0.03],[-0.4,0.035],[-0.1,0.05],[0.1,0.08],[0.3,0.13],[0.5,0.21],[0.7,0.3],[0.9,0.42],[1.1,0.53],[1.3,0.6],[1.5,0.625],[1.645,0.63]],
[[-0.7,0.03],[-0.4,0.035],[-0.1,0.05],[0.1,0.08],[0.3,0.13],[0.5,0.21],[0.7,0.3],[0.9,0.39],[1.1,0.435],[1.3,0.45],[1.645,0.45]],
[[-0.7,0.03],[-0.4,0.035],[-0.1,0.05],[0.1,0.08],[0.3,0.13],[0.5,0.205],[0.7,0.275],[0.9,0.31],[1.1,0.32],[1.645,0.32]],
[[-0.7,0.03],[-0.4,0.035],[-0.1,0.05],[0.1,0.08],[0.3,0.125],[0.5,0.18],[0.7,0.21],[0.9,0.22],[1.645,0.22]],
[[-0.7,0.029],[-0.4,0.034],[-0.1,0.048],[0.1,0.075],[0.3,0.11],[0.5,0.14],[0.7,0.15],[1.645,0.15]],
[[-0.7,0.027],[-0.4,0.032],[-0.1,0.045],[0.1,0.067],[0.3,0.088],[0.5,0.098],[0.65,0.1],[1.645,0.1]],
[[-0.7,0.024],[-0.4,0.029],[-0.1,0.04],[0.1,0.054],[0.3,0.063],[0.5,0.065],[1.645,0.065]],
[[-0.7,0.02],[-0.4,0.024],[-0.1,0.032],[0.1,0.038],[0.3,0.04],[1.645,0.04]],
[[-0.7,0.015],[-0.4,0.018],[-0.1,0.023],[0.1,0.025],[1.645,0.025]],
[[-0.7,0.009],[-0.4,0.011],[-0.1,0.013],[1.645,0.013]],
[[-0.7,0.004],[-0.3,0.006],[1.645,0.006]]
];
const massKingHigh = [
[[-0.7,0.115],[-0.4,0.16],[-0.1,0.23],[0.1,0.33],[0.3,0.5],[0.45,0.66],[0.6,0.85],[0.72,0.96],[0.85,1.0],[1.645,1.0]],
[[-0.7,0.11],[-0.4,0.155],[-0.1,0.225],[0.1,0.32],[0.3,0.48],[0.45,0.61],[0.58,0.7],[0.7,0.73],[1.645,0.73]],
[[-0.7,0.1],[-0.4,0.14],[-0.1,0.2],[0.1,0.28],[0.25,0.35],[0.4,0.39],[0.55,0.4],[1.645,0.4]],
[[-0.7,0.075],[-0.4,0.105],[-0.15,0.15],[0.05,0.185],[0.2,0.198],[0.35,0.2],[1.645,0.2]],
[[-0.7,0.05],[-0.4,0.07],[-0.2,0.09],[0.0,0.099],[0.15,0.1],[1.645,0.1]],
[[-0.7,0.03],[-0.45,0.042],[-0.25,0.049],[-0.1,0.05],[1.645,0.05]],
[[-0.7,0.019],[-0.45,0.024],[-0.3,0.025],[1.645,0.025]],
[[-0.7,0.011],[-0.5,0.012],[1.645,0.012]],
[[-0.7,0.006],[1.645,0.006]],
[[-0.7,0.003],[1.645,0.003]],
[[-0.7,0.001],[1.645,0.001]],
[[-0.7,0.0],[1.645,0.0]]
];
const massKingLow = [
[[-0.7,0.0],[-0.4,0.004],[-0.2,0.04],[0.0,0.15],[0.2,0.33],[0.35,0.52],[0.5,0.75],[0.65,0.9],[0.8,0.98],[1.0,1.0],[1.645,1.0]],
[[-0.7,0.0],[-0.4,0.004],[-0.2,0.035],[0.0,0.13],[0.2,0.29],[0.37,0.47],[0.52,0.67],[0.67,0.82],[0.82,0.88],[1.0,0.9],[1.645,0.9]],
[[-0.7,0.0],[-0.4,0.003],[-0.2,0.03],[0.0,0.11],[0.2,0.24],[0.38,0.4],[0.54,0.57],[0.69,0.7],[0.84,0.765],[1.0,0.78],[1.645,0.78]],
[[-0.7,0.0],[-0.4,0.003],[-0.2,0.025],[0.0,0.09],[0.2,0.2],[0.4,0.35],[0.56,0.5],[0.71,0.61],[0.86,0.67],[1.02,0.68],[1.645,0.68]],
[[-0.7,0.0],[-0.4,0.003],[-0.2,0.02],[0.0,0.075],[0.2,0.17],[0.4,0.3],[0.57,0.43],[0.72,0.53],[0.87,0.59],[1.03,0.6],[1.645,0.6]],
[[-0.7,0.0],[-0.4,0.002],[-0.2,0.017],[0.0,0.062],[0.2,0.14],[0.4,0.26],[0.58,0.38],[0.74,0.47],[0.89,0.52],[1.05,0.53],[1.645,0.53]],
[[-0.7,0.0],[-0.4,0.002],[-0.2,0.014],[0.0,0.05],[0.2,0.12],[0.42,0.23],[0.6,0.33],[0.76,0.42],[0.9,0.46],[1.06,0.47],[1.645,0.47]],
[[-0.7,0.0],[-0.4,0.002],[-0.2,0.011],[0.0,0.04],[0.2,0.1],[0.43,0.2],[0.62,0.3],[0.78,0.38],[0.92,0.415],[1.08,0.42],[1.645,0.42]],
[[-0.7,0.0],[-0.4,0.001],[-0.2,0.009],[0.0,0.032],[0.2,0.08],[0.44,0.17],[0.64,0.26],[0.8,0.33],[0.94,0.365],[1.1,0.37],[1.645,0.37]],
[[-0.7,0.0],[-0.4,0.001],[-0.2,0.007],[0.0,0.025],[0.2,0.065],[0.45,0.15],[0.65,0.23],[0.82,0.295],[0.96,0.325],[1.12,0.33],[1.645,0.33]],
[[-0.7,0.0],[-0.4,0.001],[-0.2,0.005],[0.0,0.02],[0.2,0.052],[0.45,0.12],[0.66,0.2],[0.83,0.26],[0.97,0.285],[1.13,0.29],[1.645,0.29]],
[[-0.7,0.0],[-0.4,0.0],[-0.2,0.004],[0.0,0.014],[0.2,0.04],[0.45,0.09],[0.68,0.16],[0.86,0.215],[1.0,0.235],[1.15,0.24],[1.645,0.24]]
];
// ---- v_circ / v_unit ----
const vcNFW = [
[[-0.7,0.31],[-0.4,0.37],[-0.1,0.43],[0.1,0.47],[0.3,0.488],[0.5,0.475],[0.7,0.44],[0.9,0.39],[1.1,0.34],[1.3,0.295],[1.5,0.265],[1.645,0.25]],
[[-0.7,0.31],[-0.4,0.37],[-0.1,0.425],[0.1,0.455],[0.28,0.465],[0.5,0.45],[0.7,0.41],[0.9,0.36],[1.1,0.31],[1.3,0.275],[1.5,0.25],[1.645,0.24]],
[[-0.7,0.31],[-0.4,0.365],[-0.1,0.415],[0.1,0.435],[0.25,0.44],[0.45,0.425],[0.65,0.385],[0.85,0.335],[1.05,0.29],[1.25,0.255],[1.45,0.23],[1.645,0.215]],
[[-0.7,0.305],[-0.4,0.36],[-0.1,0.4],[0.1,0.41],[0.2,0.41],[0.4,0.395],[0.6,0.355],[0.8,0.31],[1.0,0.27],[1.2,0.235],[1.4,0.21],[1.645,0.19]],
[[-0.7,0.3],[-0.4,0.35],[-0.1,0.38],[0.1,0.385],[0.3,0.37],[0.5,0.335],[0.7,0.29],[0.9,0.25],[1.1,0.215],[1.3,0.19],[1.5,0.17],[1.645,0.16]],
[[-0.7,0.295],[-0.4,0.335],[-0.15,0.355],[0.05,0.355],[0.25,0.34],[0.45,0.305],[0.65,0.265],[0.85,0.225],[1.05,0.195],[1.25,0.17],[1.45,0.15],[1.645,0.14]],
[[-0.7,0.29],[-0.45,0.315],[-0.2,0.33],[0.0,0.325],[0.2,0.305],[0.4,0.275],[0.6,0.235],[0.8,0.2],[1.0,0.17],[1.2,0.148],[1.4,0.132],[1.645,0.12]],
[[-0.7,0.28],[-0.45,0.3],[-0.25,0.305],[-0.05,0.295],[0.15,0.27],[0.35,0.24],[0.55,0.205],[0.75,0.175],[0.95,0.15],[1.15,0.13],[1.4,0.115],[1.645,0.105]],
[[-0.7,0.265],[-0.5,0.278],[-0.3,0.275],[-0.1,0.26],[0.1,0.235],[0.3,0.205],[0.5,0.178],[0.7,0.152],[0.9,0.132],[1.1,0.117],[1.35,0.103],[1.645,0.092]],
[[-0.7,0.245],[-0.55,0.25],[-0.35,0.245],[-0.15,0.23],[0.05,0.205],[0.25,0.18],[0.45,0.155],[0.65,0.133],[0.85,0.116],[1.1,0.101],[1.35,0.09],[1.645,0.082]],
[[-0.7,0.225],[-0.55,0.226],[-0.35,0.218],[-0.15,0.2],[0.05,0.178],[0.25,0.155],[0.45,0.133],[0.65,0.116],[0.9,0.1],[1.15,0.088],[1.4,0.079],[1.645,0.073]],
[[-0.7,0.198],[-0.55,0.2],[-0.35,0.192],[-0.15,0.176],[0.05,0.155],[0.25,0.134],[0.45,0.116],[0.65,0.1],[0.9,0.086],[1.15,0.076],[1.4,0.069],[1.645,0.064]]
];
const vcHern = [
[[-0.7,0.39],[-0.5,0.44],[-0.3,0.48],[-0.1,0.505],[0.0,0.51],[0.2,0.5],[0.4,0.46],[0.6,0.39],[0.8,0.31],[1.0,0.24],[1.2,0.19],[1.4,0.155],[1.645,0.125]],
[[-0.7,0.39],[-0.5,0.435],[-0.3,0.47],[-0.1,0.485],[0.05,0.485],[0.25,0.465],[0.45,0.42],[0.65,0.35],[0.85,0.28],[1.05,0.22],[1.25,0.175],[1.45,0.145],[1.645,0.12]],
[[-0.7,0.385],[-0.5,0.425],[-0.3,0.45],[-0.1,0.46],[0.05,0.455],[0.25,0.43],[0.45,0.38],[0.65,0.315],[0.85,0.25],[1.05,0.2],[1.25,0.16],[1.45,0.133],[1.645,0.112]],
[[-0.7,0.38],[-0.5,0.41],[-0.3,0.43],[-0.1,0.43],[0.1,0.415],[0.3,0.38],[0.5,0.33],[0.7,0.27],[0.9,0.215],[1.1,0.175],[1.3,0.145],[1.5,0.122],[1.645,0.108]],
[[-0.7,0.37],[-0.5,0.395],[-0.3,0.405],[-0.1,0.4],[0.1,0.38],[0.3,0.34],[0.5,0.29],[0.7,0.235],[0.9,0.19],[1.1,0.155],[1.3,0.13],[1.5,0.11],[1.645,0.1]],
[[-0.7,0.36],[-0.5,0.375],[-0.3,0.378],[-0.1,0.368],[0.1,0.343],[0.3,0.3],[0.5,0.255],[0.7,0.205],[0.9,0.165],[1.1,0.137],[1.3,0.115],[1.5,0.098],[1.645,0.09]],
[[-0.7,0.345],[-0.5,0.352],[-0.3,0.348],[-0.1,0.332],[0.1,0.303],[0.3,0.265],[0.5,0.222],[0.7,0.18],[0.9,0.147],[1.1,0.122],[1.3,0.103],[1.5,0.089],[1.645,0.081]],
[[-0.7,0.325],[-0.5,0.325],[-0.3,0.315],[-0.1,0.295],[0.1,0.265],[0.3,0.23],[0.5,0.193],[0.7,0.158],[0.9,0.13],[1.1,0.108],[1.3,0.092],[1.5,0.08],[1.645,0.073]],
[[-0.7,0.3],[-0.5,0.295],[-0.3,0.28],[-0.1,0.258],[0.1,0.23],[0.3,0.198],[0.5,0.166],[0.7,0.137],[0.9,0.114],[1.1,0.096],[1.3,0.082],[1.5,0.071],[1.645,0.065]],
[[-0.7,0.275],[-0.5,0.267],[-0.3,0.25],[-0.1,0.227],[0.1,0.2],[0.3,0.172],[0.5,0.145],[0.7,0.12],[0.9,0.1],[1.1,0.085],[1.3,0.073],[1.5,0.063],[1.645,0.058]],
[[-0.7,0.245],[-0.5,0.237],[-0.3,0.22],[-0.1,0.198],[0.1,0.174],[0.3,0.149],[0.5,0.125],[0.7,0.104],[0.9,0.088],[1.1,0.075],[1.3,0.064],[1.5,0.056],[1.645,0.051]],
[[-0.7,0.205],[-0.5,0.198],[-0.3,0.183],[-0.1,0.165],[0.1,0.145],[0.3,0.125],[0.5,0.105],[0.7,0.088],[0.9,0.074],[1.1,0.063],[1.3,0.054],[1.5,0.048],[1.645,0.044]]
];
const vcEinHigh = [
[[-0.7,0.235],[-0.4,0.29],[-0.1,0.345],[0.1,0.38],[0.3,0.398],[0.5,0.39],[0.7,0.36],[0.9,0.31],[1.1,0.255],[1.3,0.2],[1.5,0.16],[1.645,0.14]],
[[-0.7,0.235],[-0.4,0.288],[-0.1,0.34],[0.1,0.366],[0.28,0.375],[0.5,0.362],[0.7,0.33],[0.9,0.28],[1.1,0.23],[1.3,0.185],[1.5,0.152],[1.645,0.134]],
[[-0.7,0.233],[-0.4,0.285],[-0.1,0.33],[0.1,0.348],[0.25,0.352],[0.45,0.338],[0.65,0.3],[0.85,0.255],[1.05,0.21],[1.25,0.172],[1.45,0.145],[1.645,0.127]],
[[-0.7,0.232],[-0.4,0.28],[-0.1,0.315],[0.1,0.326],[0.25,0.325],[0.45,0.305],[0.65,0.27],[0.85,0.228],[1.05,0.19],[1.25,0.158],[1.45,0.135],[1.645,0.12]],
[[-0.7,0.23],[-0.4,0.272],[-0.1,0.298],[0.05,0.302],[0.25,0.295],[0.45,0.272],[0.65,0.238],[0.85,0.2],[1.05,0.17],[1.25,0.143],[1.45,0.124],[1.645,0.111]],
[[-0.7,0.226],[-0.4,0.262],[-0.15,0.276],[0.05,0.275],[0.25,0.262],[0.45,0.238],[0.65,0.208],[0.85,0.177],[1.05,0.15],[1.25,0.129],[1.45,0.113],[1.645,0.102]],
[[-0.7,0.222],[-0.45,0.246],[-0.2,0.254],[0.0,0.25],[0.2,0.235],[0.4,0.212],[0.6,0.185],[0.8,0.158],[1.0,0.136],[1.2,0.117],[1.4,0.103],[1.645,0.092]],
[[-0.7,0.214],[-0.45,0.228],[-0.25,0.23],[-0.05,0.222],[0.15,0.206],[0.35,0.186],[0.55,0.163],[0.75,0.14],[0.95,0.121],[1.15,0.105],[1.4,0.092],[1.645,0.083]],
[[-0.7,0.2],[-0.5,0.208],[-0.3,0.205],[-0.1,0.195],[0.1,0.18],[0.3,0.161],[0.5,0.141],[0.7,0.122],[0.9,0.106],[1.1,0.093],[1.35,0.081],[1.645,0.072]],
[[-0.7,0.186],[-0.5,0.188],[-0.3,0.182],[-0.1,0.17],[0.1,0.155],[0.3,0.138],[0.5,0.12],[0.7,0.104],[0.9,0.091],[1.1,0.08],[1.35,0.07],[1.645,0.062]],
[[-0.7,0.17],[-0.5,0.17],[-0.3,0.163],[-0.1,0.151],[0.1,0.136],[0.3,0.12],[0.5,0.104],[0.7,0.09],[0.9,0.079],[1.1,0.07],[1.35,0.061],[1.645,0.054]],
[[-0.7,0.148],[-0.5,0.148],[-0.3,0.142],[-0.1,0.131],[0.1,0.117],[0.3,0.103],[0.5,0.09],[0.7,0.078],[0.9,0.068],[1.1,0.06],[1.35,0.052],[1.645,0.046]]
];
const vcEinLow = [
[[-0.7,0.2],[-0.4,0.222],[-0.1,0.24],[0.1,0.25],[0.3,0.253],[0.5,0.25],[0.7,0.24],[0.9,0.222],[1.1,0.2],[1.3,0.175],[1.5,0.152],[1.645,0.138]],
[[-0.7,0.2],[-0.4,0.22],[-0.1,0.235],[0.1,0.242],[0.3,0.243],[0.5,0.237],[0.7,0.224],[0.9,0.205],[1.1,0.184],[1.3,0.162],[1.5,0.143],[1.645,0.131]],
[[-0.7,0.198],[-0.4,0.217],[-0.1,0.229],[0.1,0.233],[0.3,0.231],[0.5,0.222],[0.7,0.207],[0.9,0.189],[1.1,0.169],[1.3,0.15],[1.5,0.134],[1.645,0.124]],
[[-0.7,0.196],[-0.4,0.212],[-0.1,0.22],[0.1,0.221],[0.3,0.216],[0.5,0.205],[0.7,0.19],[0.9,0.172],[1.1,0.154],[1.3,0.138],[1.5,0.125],[1.645,0.116]],
[[-0.7,0.193],[-0.4,0.205],[-0.1,0.209],[0.1,0.207],[0.3,0.199],[0.5,0.187],[0.7,0.172],[0.9,0.156],[1.1,0.14],[1.3,0.126],[1.5,0.115],[1.645,0.107]],
[[-0.7,0.188],[-0.4,0.196],[-0.1,0.196],[0.1,0.191],[0.3,0.181],[0.5,0.168],[0.7,0.154],[0.9,0.139],[1.1,0.126],[1.3,0.114],[1.5,0.104],[1.645,0.098]],
[[-0.7,0.181],[-0.4,0.184],[-0.1,0.18],[0.1,0.173],[0.3,0.162],[0.5,0.15],[0.7,0.137],[0.9,0.124],[1.1,0.112],[1.3,0.102],[1.5,0.094],[1.645,0.088]],
[[-0.7,0.171],[-0.4,0.17],[-0.1,0.163],[0.1,0.155],[0.3,0.144],[0.5,0.132],[0.7,0.12],[0.9,0.109],[1.1,0.099],[1.3,0.09],[1.5,0.083],[1.645,0.078]],
[[-0.7,0.158],[-0.4,0.154],[-0.1,0.145],[0.1,0.137],[0.3,0.126],[0.5,0.115],[0.7,0.105],[0.9,0.095],[1.1,0.086],[1.3,0.079],[1.5,0.073],[1.645,0.068]],
[[-0.7,0.143],[-0.4,0.138],[-0.1,0.129],[0.1,0.12],[0.3,0.11],[0.5,0.1],[0.7,0.091],[0.9,0.083],[1.1,0.075],[1.3,0.069],[1.5,0.063],[1.645,0.059]],
[[-0.7,0.13],[-0.4,0.124],[-0.1,0.115],[0.1,0.107],[0.3,0.098],[0.5,0.089],[0.7,0.08],[0.9,0.073],[1.1,0.066],[1.3,0.06],[1.5,0.055],[1.645,0.051]],
[[-0.7,0.113],[-0.4,0.107],[-0.1,0.098],[0.1,0.091],[0.3,0.083],[0.5,0.075],[0.7,0.068],[0.9,0.061],[1.1,0.055],[1.3,0.05],[1.5,0.046],[1.645,0.043]]
];
const vcKingHigh = [
[[-0.7,0.655],[-0.4,0.63],[-0.1,0.6],[0.2,0.57],[0.4,0.53],[0.55,0.48],[0.7,0.42],[0.85,0.34],[1.0,0.27],[1.2,0.21],[1.4,0.175],[1.645,0.15]],
[[-0.7,0.64],[-0.4,0.61],[-0.1,0.575],[0.15,0.535],[0.35,0.48],[0.5,0.42],[0.65,0.35],[0.8,0.285],[1.0,0.225],[1.2,0.185],[1.4,0.158],[1.645,0.135]],
[[-0.7,0.6],[-0.4,0.565],[-0.1,0.52],[0.1,0.475],[0.3,0.41],[0.45,0.35],[0.6,0.29],[0.8,0.23],[1.0,0.19],[1.2,0.16],[1.4,0.138],[1.645,0.12]],
[[-0.7,0.54],[-0.4,0.495],[-0.15,0.445],[0.05,0.39],[0.25,0.32],[0.45,0.26],[0.65,0.215],[0.85,0.18],[1.05,0.152],[1.25,0.13],[1.45,0.113],[1.645,0.1]],
[[-0.7,0.46],[-0.45,0.41],[-0.2,0.35],[0.0,0.295],[0.2,0.245],[0.4,0.205],[0.6,0.172],[0.8,0.145],[1.0,0.124],[1.2,0.107],[1.4,0.094],[1.645,0.083]],
[[-0.7,0.38],[-0.45,0.325],[-0.2,0.27],[0.0,0.23],[0.2,0.195],[0.4,0.165],[0.6,0.14],[0.8,0.118],[1.0,0.1],[1.2,0.087],[1.4,0.076],[1.645,0.067]],
[[-0.7,0.3],[-0.45,0.255],[-0.2,0.212],[0.0,0.182],[0.2,0.155],[0.4,0.131],[0.6,0.111],[0.8,0.094],[1.0,0.08],[1.2,0.069],[1.4,0.06],[1.645,0.053]],
[[-0.7,0.225],[-0.45,0.19],[-0.2,0.158],[0.0,0.136],[0.2,0.116],[0.4,0.098],[0.6,0.083],[0.8,0.071],[1.0,0.06],[1.2,0.052],[1.4,0.045],[1.645,0.04]],
[[-0.7,0.16],[-0.45,0.135],[-0.2,0.112],[0.0,0.096],[0.2,0.082],[0.4,0.069],[0.6,0.059],[0.8,0.05],[1.0,0.042],[1.2,0.036],[1.4,0.032],[1.645,0.028]],
[[-0.7,0.105],[-0.45,0.088],[-0.2,0.073],[0.0,0.063],[0.2,0.053],[0.4,0.045],[0.6,0.038],[0.8,0.033],[1.0,0.028],[1.2,0.024],[1.4,0.021],[1.645,0.018]],
[[-0.7,0.06],[-0.45,0.05],[-0.2,0.042],[0.0,0.036],[0.2,0.03],[0.4,0.026],[0.6,0.022],[0.8,0.019],[1.0,0.016],[1.2,0.014],[1.4,0.012],[1.645,0.01]],
[[-0.7,0.025],[-0.45,0.021],[-0.2,0.017],[0.0,0.015],[0.2,0.013],[0.4,0.011],[0.6,0.009],[0.8,0.008],[1.0,0.007],[1.2,0.006],[1.4,0.005],[1.645,0.004]]
];
const vcKingLow = [
[[-0.7,0.07],[-0.4,0.12],[-0.1,0.21],[0.1,0.31],[0.3,0.41],[0.45,0.453],[0.6,0.43],[0.8,0.35],[1.0,0.27],[1.2,0.215],[1.4,0.178],[1.645,0.15]],
[[-0.7,0.065],[-0.4,0.11],[-0.1,0.195],[0.1,0.285],[0.3,0.375],[0.46,0.415],[0.62,0.4],[0.82,0.33],[1.02,0.258],[1.22,0.207],[1.42,0.172],[1.645,0.146]],
[[-0.7,0.06],[-0.4,0.1],[-0.1,0.178],[0.1,0.258],[0.3,0.338],[0.48,0.378],[0.64,0.368],[0.84,0.31],[1.04,0.245],[1.24,0.198],[1.44,0.166],[1.645,0.142]],
[[-0.7,0.054],[-0.4,0.09],[-0.1,0.16],[0.1,0.232],[0.3,0.303],[0.5,0.342],[0.66,0.336],[0.86,0.288],[1.06,0.232],[1.26,0.19],[1.46,0.16],[1.645,0.138]],
[[-0.7,0.048],[-0.4,0.081],[-0.1,0.143],[0.1,0.207],[0.3,0.27],[0.52,0.31],[0.68,0.306],[0.88,0.266],[1.08,0.219],[1.28,0.181],[1.48,0.154],[1.645,0.134]],
[[-0.7,0.042],[-0.4,0.072],[-0.1,0.126],[0.1,0.183],[0.3,0.24],[0.54,0.28],[0.7,0.278],[0.9,0.245],[1.1,0.205],[1.3,0.172],[1.5,0.147],[1.645,0.13]],
[[-0.7,0.036],[-0.4,0.062],[-0.1,0.11],[0.1,0.16],[0.3,0.21],[0.56,0.252],[0.72,0.252],[0.92,0.226],[1.12,0.192],[1.32,0.163],[1.5,0.141],[1.645,0.126]],
[[-0.7,0.03],[-0.4,0.052],[-0.1,0.093],[0.1,0.136],[0.3,0.18],[0.58,0.224],[0.74,0.227],[0.94,0.206],[1.14,0.178],[1.34,0.154],[1.5,0.135],[1.645,0.121]],
[[-0.7,0.024],[-0.4,0.042],[-0.1,0.076],[0.1,0.112],[0.3,0.15],[0.6,0.196],[0.76,0.203],[0.96,0.187],[1.16,0.164],[1.36,0.144],[1.5,0.129],[1.645,0.116]],
[[-0.7,0.018],[-0.4,0.032],[-0.1,0.059],[0.1,0.088],[0.3,0.12],[0.62,0.17],[0.78,0.179],[0.98,0.168],[1.18,0.149],[1.38,0.132],[1.52,0.12],[1.645,0.11]],
[[-0.7,0.013],[-0.4,0.024],[-0.1,0.045],[0.1,0.068],[0.3,0.095],[0.64,0.145],[0.8,0.156],[1.0,0.149],[1.2,0.134],[1.4,0.12],[1.52,0.11],[1.645,0.1]],
[[-0.7,0.008],[-0.4,0.015],[-0.1,0.029],[0.1,0.045],[0.3,0.066],[0.66,0.125],[0.82,0.14],[1.02,0.134],[1.22,0.118],[1.42,0.104],[1.55,0.095],[1.645,0.088]]
];

// ---------------- LAYOUT / STYLE ----------------
const colL = [105, 232, 361, 489, 617, 745];
const colR = [232, 361, 489, 617, 745, 873];
const rowT = [40, 148, 257, 364];
const rowB = [148, 257, 364, 472];
const X_MIN = -0.699, X_MAX = 1.646;
const TXT = '#222';
const SANS = '"DejaVu Sans", sans-serif';
const SERIF = '"Liberation Serif", "DejaVu Serif", serif';

const rowsCfg = [
  {panels: [rhoNFW, rhoHern, rhoEinHigh, rhoEinLow, rhoKingHigh, rhoKingLow], min: -5.3, max: 0.7, ticks: rhoTickExp, log: true},
  {panels: [rr2NFW, rr2Hern, rr2EinHigh, rr2EinLow, rr2KingHigh, rr2KingLow], min: -4.31, max: -0.31, ticks: rr2TickExp, log: true},
  {panels: [massNFW, massHern, massEinHigh, massEinLow, massKingHigh, massKingLow], min: -0.094, max: 1.094, ticks: massTicks, log: false},
  {panels: [vcNFW, vcHern, vcEinHigh, vcEinLow, vcKingHigh, vcKingLow], min: 0, max: 0.697, ticks: vcircTicks, log: false}
];

function jet(t) {
  const R = [[0,0],[0.35,0],[0.66,1],[0.89,1],[1,0.5]];
  const G = [[0,0],[0.125,0],[0.375,1],[0.64,1],[0.91,0],[1,0]];
  const B = [[0,0.5],[0.11,1],[0.34,1],[0.65,0],[1,0]];
  const f = s => { for (let i = 0; i < s.length - 1; i++) { if (t <= s[i+1][0]) { const a = s[i], b = s[i+1]; return a[1] + (b[1]-a[1]) * (t-a[0]) / (b[0]-a[0]); } } return s[s.length-1][1]; };
  return 'rgb(' + Math.round(f(R)*255) + ',' + Math.round(f(G)*255) + ',' + Math.round(f(B)*255) + ')';
}

const labelRich = {
  b: {fontSize: 14, fontFamily: SANS, color: TXT, lineHeight: 20},
  s: {fontSize: 10, fontFamily: SANS, color: TXT, lineHeight: 10, verticalAlign: 'top'}
};
const expLabel = v => '{b|10}{s|' + (v < 0 ? '\u2212' + (-v) : v) + '}';

const xMajorLog = xMajorTicks.map(v => Math.log10(v));
const xMinorLog = xMinorTicks.map(v => Math.log10(v));

const grids = [], xAxes = [], yAxes = [], series = [];
rowsCfg.forEach((rc, ri) => {
  for (let ci = 0; ci < 6; ci++) {
    const gi = ri * 6 + ci;
    grids.push({left: colL[ci], top: rowT[ri], width: colR[ci] - colL[ci], height: rowB[ri] - rowT[ri],
      show: true, borderColor: '#111', borderWidth: 1.6, backgroundColor: 'transparent', containLabel: false, outerBoundsMode: 'none'});
    xAxes.push({type: 'value', gridIndex: gi, position: 'bottom', min: X_MIN, max: X_MAX,
      axisLine: {show: false, onZero: false}, splitLine: {show: false},
      axisTick: {show: true, inside: true, length: 5, customValues: xMajorLog, lineStyle: {color: '#111', width: 1.2}},
      axisLabel: {show: ri === 3, customValues: xMajorLog, margin: 7, formatter: v => expLabel(Math.round(v)), rich: labelRich}});
    xAxes.push({type: 'value', gridIndex: gi, position: 'bottom', min: X_MIN, max: X_MAX,
      axisLine: {show: false, onZero: false}, splitLine: {show: false}, axisLabel: {show: false},
      axisTick: {show: true, inside: true, length: 2.5, customValues: xMinorLog, lineStyle: {color: '#111', width: 1}}});
    yAxes.push({type: 'value', gridIndex: gi, position: 'left', min: rc.min, max: rc.max,
      axisLine: {show: false, onZero: false}, splitLine: {show: false},
      axisTick: {show: true, inside: true, length: 5, customValues: rc.ticks, lineStyle: {color: '#111', width: 1.2}},
      axisLabel: {show: ci === 0, customValues: rc.ticks, margin: 7,
        formatter: rc.log ? (v => expLabel(Math.round(v))) : (v => '{b|' + v.toFixed(1) + '}'), rich: labelRich}});
    rc.panels[ci].forEach((curve, k) => {
      series.push({type: 'line', xAxisIndex: gi * 2, yAxisIndex: gi, data: curve, symbol: 'none', showSymbol: false,
        smooth: 0.25, smoothMonotone: 'x', clip: true, silent: true, animation: false,
        lineStyle: {width: 3.2, color: jet(energies[k]), cap: 'round', join: 'round'}, z: 2 + k});
    });
  }
});

// colour bar (grid 24)
const cbStops = [];
for (let i = 0; i <= 40; i++) cbStops.push({offset: i / 40, color: jet(1 - i / 40)});
grids.push({left: 883, top: 41, width: 19, height: 431, show: true, borderColor: '#111', borderWidth: 1.2,
  backgroundColor: {type: 'linear', x: 0, y: 0, x2: 0, y2: 1, colorStops: cbStops}, containLabel: false, outerBoundsMode: 'none'});
xAxes.push({type: 'value', gridIndex: 24, show: false, min: 0, max: 1, axisLine: {onZero: false}});
yAxes.push({type: 'value', gridIndex: 24, position: 'right', min: 0, max: 1, interval: 0.2,
  axisLine: {show: false, onZero: false}, splitLine: {show: false},
  axisTick: {show: true, inside: true, length: 4, customValues: cbarTicks, lineStyle: {color: '#111', width: 1.2}},
  axisLabel: {customValues: cbarTicks, margin: 6, formatter: v => v.toFixed(1), fontSize: 14, fontFamily: SANS, color: TXT}});

// text graphics
const mRich = {
  i: {fontFamily: SERIF, fontStyle: 'italic', fontSize: 23, fill: TXT, lineHeight: 26},
  u: {fontFamily: SERIF, fontSize: 23, fill: TXT, lineHeight: 26},
  sb: {fontFamily: SERIF, fontSize: 14, fill: TXT, lineHeight: 14, verticalAlign: 'bottom'},
  sp: {fontFamily: SERIF, fontSize: 14, fill: TXT, lineHeight: 14, verticalAlign: 'top'}
};
function mtext(x, y, t) {
  return {type: 'text', x: x, y: y, style: {text: t, rich: mRich, fill: TXT, align: 'center', verticalAlign: 'middle'}};
}
function frac(cx, cy, num, den, w, extra) {
  return {type: 'group', x: cx, y: cy, rotation: Math.PI / 2, children: [
    mtext(0, -13, num),
    {type: 'rect', shape: {x: -w / 2, y: -0.7, width: w, height: 1.4}, style: {fill: TXT}},
    mtext(0, 14, den)
  ].concat(extra || [])};
}
const graphics = [];
models.forEach((m, i) => graphics.push({type: 'text', x: (colL[i] + colR[i]) / 2, y: 19,
  style: {text: m, fontSize: 22, fontFamily: SANS, fill: '#111', align: 'center', verticalAlign: 'middle'}}));
graphics.push(frac(48, 97, '{i|\u03c1}', '{i|\u03c1}{sb|unit}', 34));
graphics.push(frac(38, 203, '{i|\u03c1r}{sp|2}', '{i|\u03c1}{sb|unit}{i|r}{sb|unit}', 64,
  [{type: 'text', x: 14, y: 6, style: {text: '2', fontFamily: SERIF, fontSize: 14, fill: TXT, align: 'center', verticalAlign: 'middle'}}]));
graphics.push(frac(47, 312, '{i|M}{u|(<}{i|r}{u|)}', '{i|M}{sb|unit}', 62));
graphics.push(frac(52, 425, '{i|v}{sb|circ}', '{i|v}{sb|unit}', 30));
graphics.push({type: 'group', x: 940, y: 243, rotation: Math.PI / 2, children: [
  mtext(0, 0, '{i|\u2130}{sb|T}{u|/\u03a8(0)}')]});
graphics.push({type: 'text', x: 489, y: 525, style: {text: '{xi|r}{xu|/}{xi|r}{xs|unit}', align: 'center', verticalAlign: 'middle',
  rich: {xi: {fontFamily: SERIF, fontStyle: 'italic', fontSize: 31, fill: TXT, lineHeight: 34},
         xu: {fontFamily: SERIF, fontSize: 31, fill: TXT, lineHeight: 34},
         xs: {fontFamily: SERIF, fontSize: 18, fill: TXT, lineHeight: 18, verticalAlign: 'bottom'}}}});

const chart = echarts.init(document.getElementById('c'), null, {renderer: 'canvas'});
chart.setOption({
  animation: false,
  backgroundColor: '#fff',
  grid: grids, xAxis: xAxes, yAxis: yAxes, series: series, graphic: graphics
});
</script></body></html>
